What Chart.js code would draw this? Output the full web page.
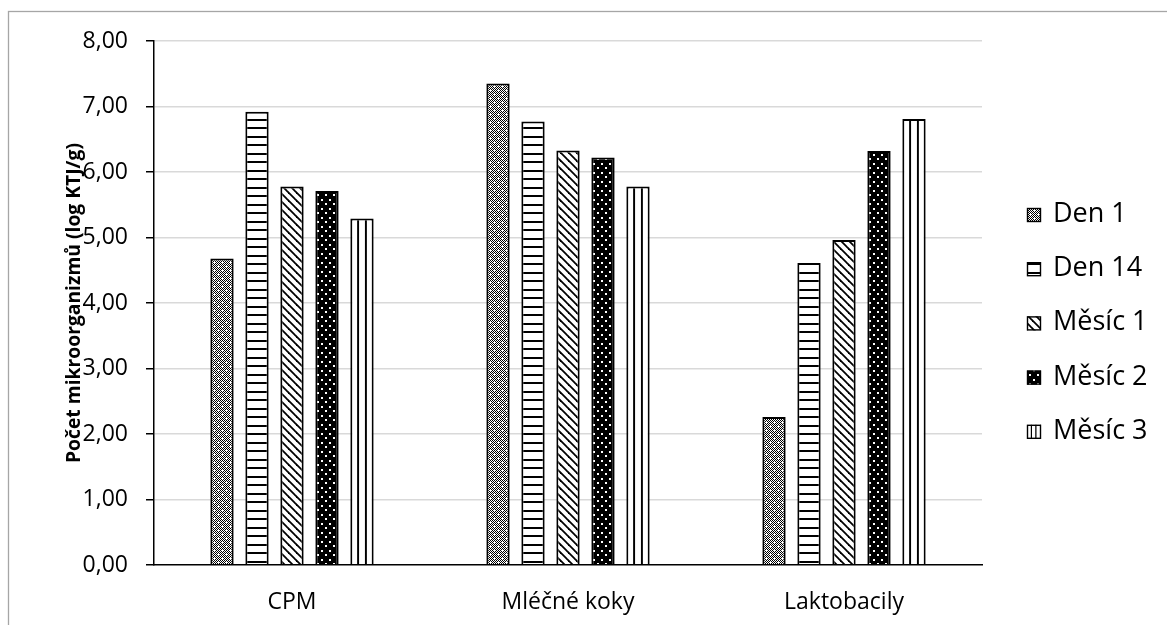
<!DOCTYPE html>
<html lang="cs">
<head>
<meta charset="utf-8">
<title>Počet mikroorganizmů</title>
<script src="https://cdn.jsdelivr.net/npm/chart.js@4/dist/chart.umd.min.js"></script>
<style>
  html, body { margin: 0; padding: 0; background: #ffffff; }
  #wrap { position: relative; width: 1167px; height: 625px; }
</style>
</head>
<body>
<div id="wrap"><canvas id="c" width="1167" height="625"></canvas></div>
<script>
// Categories and series (log KTJ/g)
const categories = ['CPM', 'Mléčné koky', 'Laktobacily'];
const seriesNames = ['Den 1', 'Den 14', 'Měsíc 1', 'Měsíc 2', 'Měsíc 3'];
const den1   = [4.68, 7.35, 2.26];
const den14  = [6.92, 6.77, 4.61];
const mesic1 = [5.78, 6.33, 4.96];
const mesic2 = [5.71, 6.22, 6.32];
const mesic3 = [5.29, 5.78, 6.81];
const yTicks = [0, 1, 2, 3, 4, 5, 6, 7, 8];

const FONT = "'Open Sans', 'DejaVu Sans', sans-serif";
const CAT_PCT = 0.634;
const BAR_PCT = 0.666;

const canvas = document.getElementById('c');
const ctx = canvas.getContext('2d');

// --- hatch tiles -------------------------------------------------------
function tile(w, h, paint) {
  const t = document.createElement('canvas');
  t.width = w; t.height = h;
  const g = t.getContext('2d');
  paint(g, w, h);
  return t;
}

// fine checker with small white crosses
const tileDen1 = tile(8, 8, (g) => {
  g.fillStyle = '#fff'; g.fillRect(0, 0, 8, 8);
  g.fillStyle = '#000';
  for (let y = 0; y < 8; y++) for (let x = 0; x < 8; x++) if ((x + y) % 2 === 0) g.fillRect(x, y, 1, 1);
  g.fillStyle = '#fff';
  [[2,1],[1,2],[2,2],[3,2],[2,3],[6,5],[5,6],[6,6],[7,6],[6,7]].forEach(([x, y]) => g.fillRect(x, y, 1, 1));
});
// horizontal stripes
const tileDen14 = tile(8, 17, (g) => {
  g.fillStyle = '#fff'; g.fillRect(0, 0, 8, 17);
  g.fillStyle = '#000';
  g.fillRect(0, 0, 8, 2);
  g.fillRect(0, 8, 8, 2);
});
// downward diagonal
const tileM1 = tile(8, 8, (g) => {
  g.fillStyle = '#fff'; g.fillRect(0, 0, 8, 8);
  g.strokeStyle = '#000'; g.lineWidth = 1.8;
  [-8, 0, 8].forEach(o => {
    g.beginPath(); g.moveTo(o - 1, -1); g.lineTo(o + 9, 9); g.stroke();
  });
});
// black with white dots
const tileM2 = tile(8, 9, (g) => {
  g.fillStyle = '#000'; g.fillRect(0, 0, 8, 9);
  g.fillStyle = '#fff';
  g.fillRect(1, 1, 2, 2);
  g.fillRect(5, 5, 2, 2);
});
// vertical stripe, one line per tile
const tileM3 = tile(8, 4, (g) => {
  g.fillStyle = '#fff'; g.fillRect(0, 0, 8, 4);
  g.fillStyle = '#000';
  g.fillRect(0, 0, 2, 4);
});

const patDen1 = ctx.createPattern(tileDen1, 'repeat');
const patDen14 = ctx.createPattern(tileDen14, 'repeat');
const patM1 = ctx.createPattern(tileM1, 'repeat');
const patM2 = ctx.createPattern(tileM2, 'repeat');

// vertical stripes placed so the bar is split in thirds
function stripedFor(left, width) {
  const p = ctx.createPattern(tileM3, 'repeat');
  const step = width / 3;
  p.setTransform(new DOMMatrix().translate(left + step - 1, 0).scale(step / 8, 1));
  return p;
}
function mesic3Fill(c) {
  const chart = c.chart;
  const xs = chart.scales && chart.scales.x;
  if (!xs || !isFinite(xs.width) || xs.width <= 0 || c.dataIndex === undefined) {
    return ctx.createPattern(tileM3, 'repeat');
  }
  const cat = xs.width / categories.length;
  const slot = cat * CAT_PCT / seriesNames.length;
  const w = slot * BAR_PCT;
  const center = xs.getPixelForValue(c.dataIndex);
  const left = center + (c.datasetIndex - 2) * slot - w / 2;
  return stripedFor(left, w);
}

const fills = [patDen1, patDen14, patM1, patM2, mesic3Fill];
const values = [den1, den14, mesic1, mesic2, mesic3];

// --- outer frame and legend --------------------------------------------
const frameAndLegend = {
  id: 'frameAndLegend',
  beforeDraw(chart) {
    const g = chart.ctx;
    g.save();
    g.fillStyle = '#ffffff';
    g.fillRect(0, 0, chart.width, chart.height);
    g.strokeStyle = '#a6a6a6';
    g.lineWidth = 1.3;
    g.strokeRect(8.5, 11.5, chart.width + 20, chart.height + 20);
    g.restore();
  },
  afterDraw(chart) {
    const g = chart.ctx;
    g.save();
    g.font = '27px ' + FONT;
    g.fillStyle = '#000';
    g.textAlign = 'left';
    g.textBaseline = 'alphabetic';
    const boxX = 1027, textX = 1053, firstBase = 222, gap = 54.2, box = 14;
    seriesNames.forEach((name, i) => {
      const base = firstBase + i * gap;
      const top = base - box;
      const f = fills[i];
      g.fillStyle = typeof f === 'function' ? stripedFor(boxX, box) : f;
      g.fillRect(boxX, top, box, box);
      g.strokeStyle = '#000';
      g.lineWidth = 1.4;
      g.strokeRect(boxX + 0.5, top + 0.5, box - 1, box - 1);
      g.fillStyle = '#000';
      g.fillText(name, textX, base);
    });
    g.restore();
  }
};

const fmt = (v) => v.toFixed(2).replace('.', ',');

new Chart(canvas, {
  type: 'bar',
  data: {
    labels: categories,
    datasets: seriesNames.map((name, i) => ({
      label: name,
      data: values[i],
      backgroundColor: fills[i],
      borderColor: '#000000',
      borderWidth: 2,
      borderSkipped: 'start',
      categoryPercentage: CAT_PCT,
      barPercentage: BAR_PCT
    }))
  },
  options: {
    responsive: false,
    animation: false,
    events: [],
    layout: { padding: { top: 41, right: 185, bottom: 0, left: 0 } },
    plugins: {
      legend: { display: false },
      tooltip: { enabled: false },
      title: { display: false }
    },
    scales: {
      x: {
        grid: { display: false, drawTicks: false },
        border: { display: true, color: '#000000', width: 1.5, z: 1 },
        ticks: {
          color: '#000000',
          font: { family: FONT, size: 23 },
          padding: 24,
          maxRotation: 0
        },
        afterFit(scale) { scale.height = 60; }
      },
      y: {
        min: 0,
        max: 8,
        afterBuildTicks(scale) { scale.ticks = yTicks.map(v => ({ value: v })); },
        grid: {
          color: (c) => (c.tick && c.tick.value === 0) ? 'rgba(0,0,0,0)' : '#d9d9d9',
          lineWidth: 1.5,
          tickColor: '#000000',
          tickWidth: 1.5,
          tickLength: 8,
          drawTicks: true
        },
        border: { display: true, color: '#000000', width: 1.5, z: 1 },
        ticks: {
          color: '#000000',
          font: { family: FONT, size: 23 },
          padding: 18,
          callback: (v) => fmt(v)
        },
        title: {
          display: true,
          text: 'Počet mikroorganizmů (log KTJ/g)',
          color: '#000000',
          font: { family: FONT, size: 19.3, weight: 'bold' },
          padding: { top: 62.5, bottom: 0 }
        },
        afterFit(scale) { scale.width = 154; }
      }
    }
  },
  plugins: [frameAndLegend]
});
</script>
</body>
</html>
